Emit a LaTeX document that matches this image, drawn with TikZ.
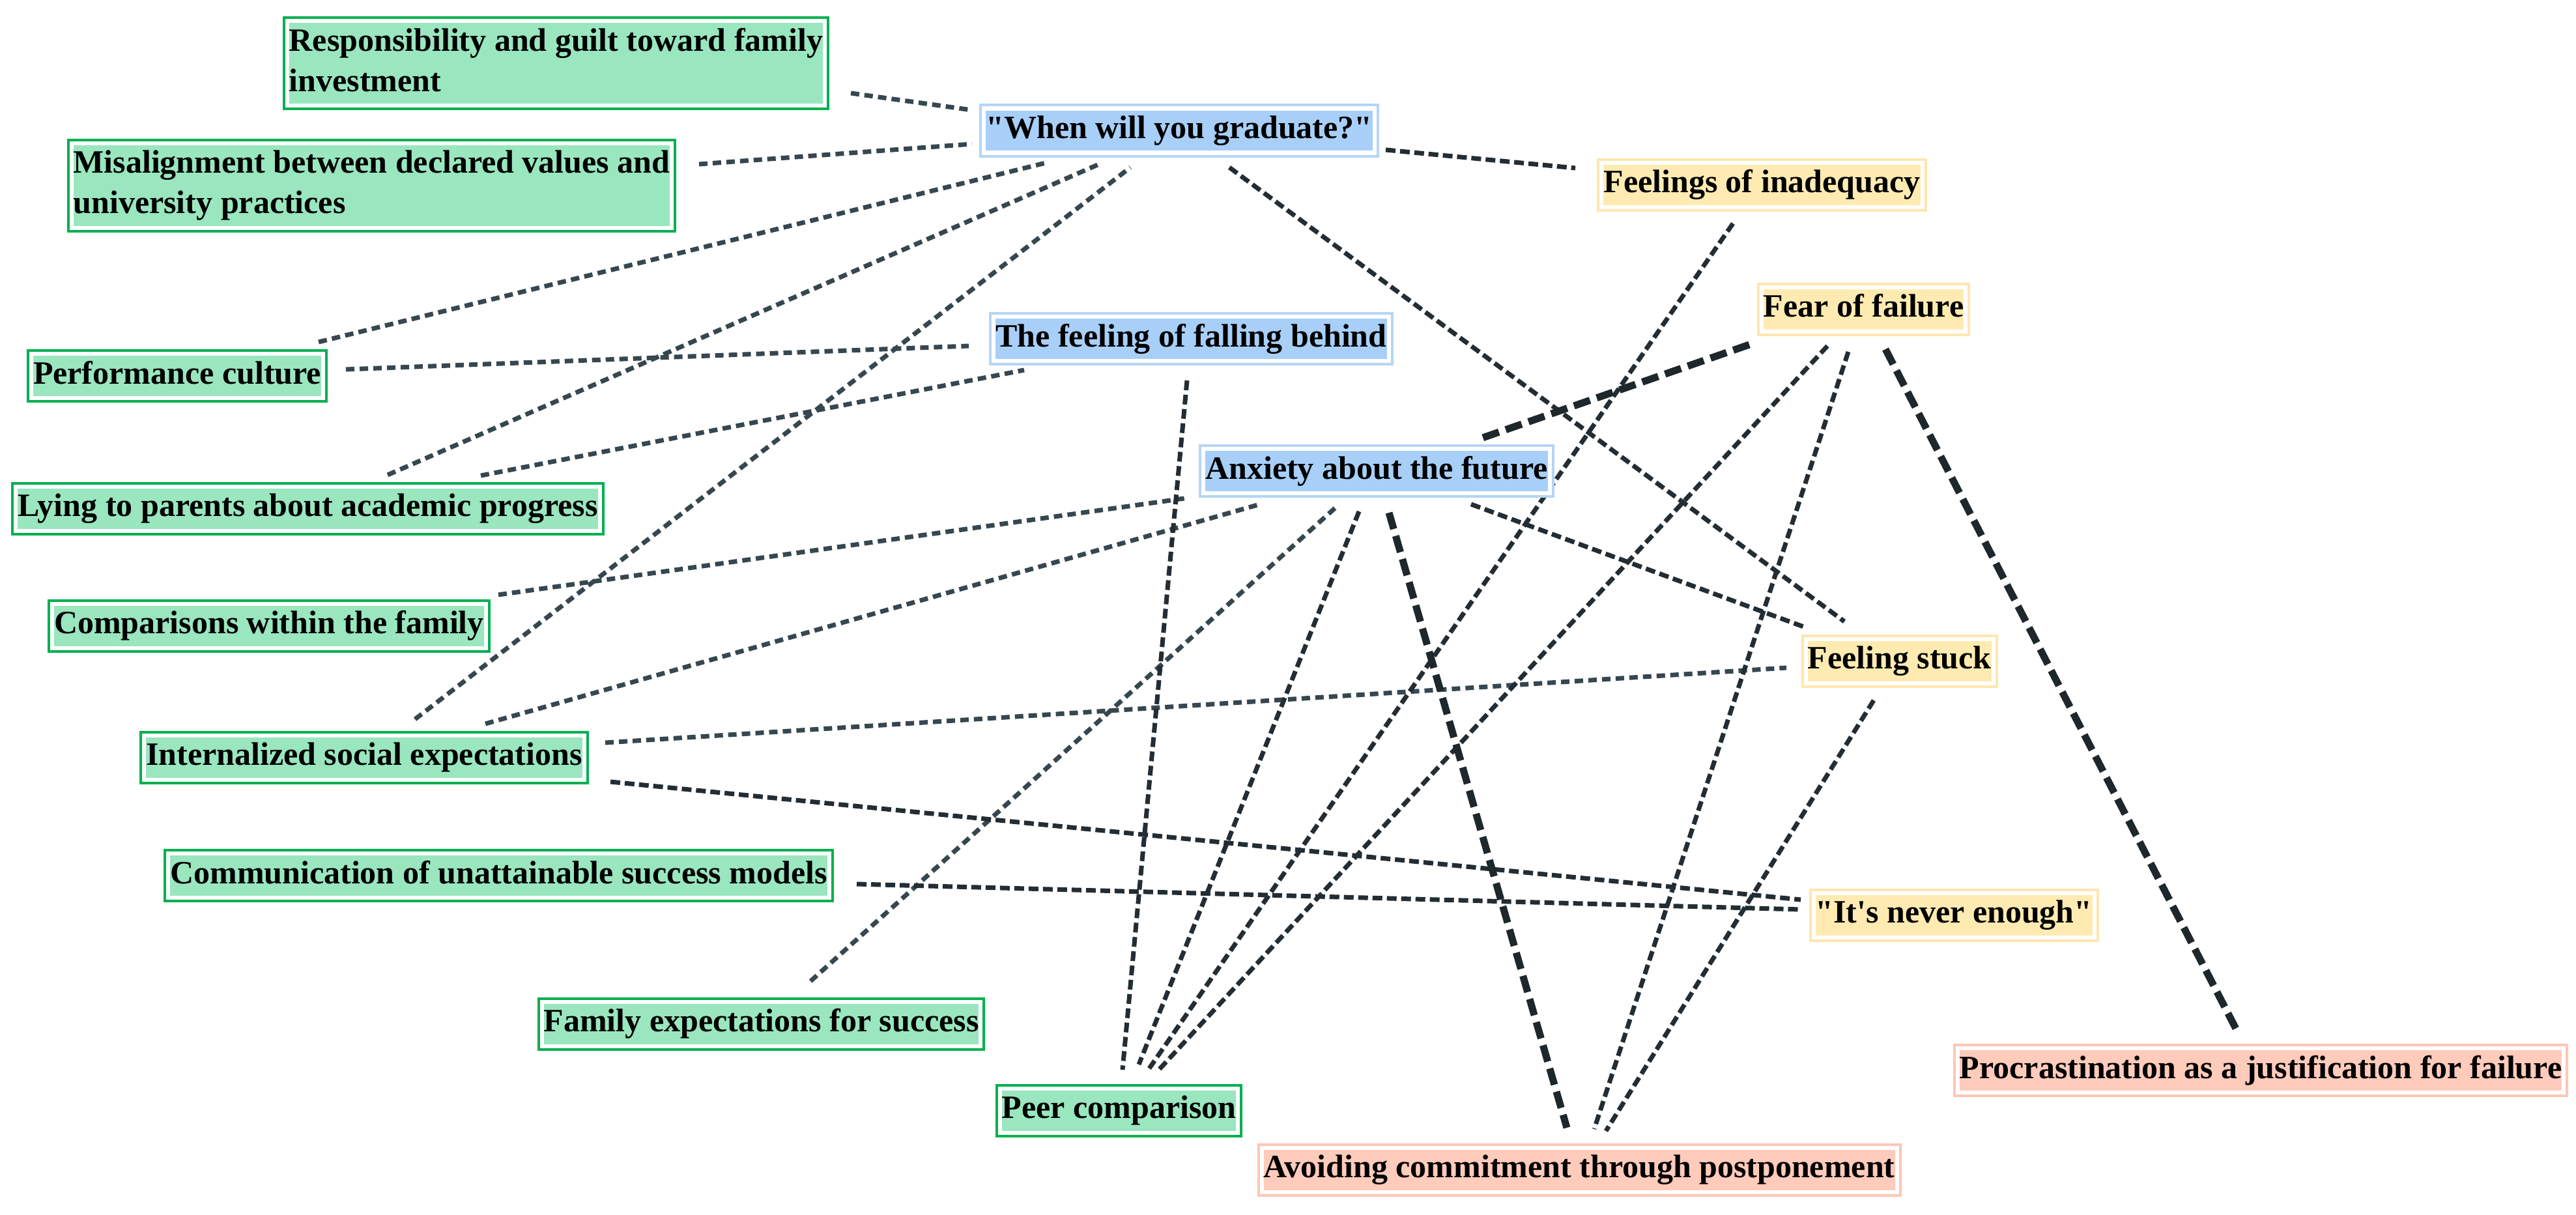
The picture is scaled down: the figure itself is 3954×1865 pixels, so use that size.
\documentclass[tikz,border=0pt]{standalone}
\usepackage{fontspec}
\setmainfont{Liberation Serif}[Ligatures=TeXOff]
\usetikzlibrary{calc}
\setlength{\fboxsep}{0pt}
\definecolor{gfill}{HTML}{99E6BF}
\definecolor{gborder}{HTML}{00B050}
\definecolor{bfill}{HTML}{A8CFF7}
\definecolor{bborder}{HTML}{B4D5F6}
\definecolor{yfill}{HTML}{FFEBB2}
\definecolor{yborder}{HTML}{FFE6AE}
\definecolor{sfill}{HTML}{FFCBBB}
\definecolor{sborder}{HTML}{FFC6B6}
\definecolor{slatec}{HTML}{37474F}
\definecolor{darkc}{HTML}{232D33}
\definecolor{thickc}{HTML}{1E272C}
\newcommand{\hlbox}[2]{\colorbox{#1}{\begin{tabular}{@{}l@{}}#2\end{tabular}}}
\pgfdeclarelayer{bg}
\pgfsetlayers{bg,main}
\tikzset{
  basebox/.style={fill=white, inner sep=8pt, font=\fontsize{50}{62}\selectfont\bfseries, anchor=center},
  gbox/.style={basebox, draw=gborder, line width=4pt},
  bbox/.style={basebox, draw=bborder, line width=4pt},
  ybox/.style={basebox, draw=yborder, line width=4pt},
  sbox/.style={basebox, draw=sborder, line width=4pt},
  slate/.style={draw=slatec, line width=7pt, dash pattern=on 13pt off 8pt},
  darkl/.style={draw=darkc, line width=7pt, dash pattern=on 15pt off 7pt},
  thickl/.style={draw=thickc, line width=11pt, dash pattern=on 26pt off 11pt}
}
\begin{document}
\begin{tikzpicture}[x=1pt,y=-1pt]
\useasboundingbox (0,0) rectangle (3954,1865);
% left (green) nodes
\node[gbox] (resp) at (853.5,97) {\hlbox{gfill}{Responsibility and guilt toward family\\investment}};
\node[gbox] (mis) at (570.5,284.5) {\hlbox{gfill}{Misalignment between declared values and\\university practices}};
\node[gbox] (perf) at (272,577) {\hlbox{gfill}{Performance culture}};
\node[gbox] (lying) at (472.5,780.5) {\hlbox{gfill}{Lying to parents about academic progress}};
\node[gbox] (comp) at (413,960.5) {\hlbox{gfill}{Comparisons within the family}};
\node[gbox] (intern) at (559,1162.5) {\hlbox{gfill}{Internalized social expectations}};
\node[gbox] (comm) at (765.5,1344) {\hlbox{gfill}{Communication of unattainable success models}};
\node[gbox] (fam) at (1168.5,1571.5) {\hlbox{gfill}{Family expectations for success}};
\node[gbox] (peer) at (1717.5,1704.5) {\hlbox{gfill}{Peer comparison}};
% blue nodes
\node[bbox] (when) at (1810,200.5) {\hlbox{bfill}{"When will you graduate?"}};
\node[bbox] (behind) at (1828.5,520) {\hlbox{bfill}{The feeling of falling behind}};
\node[bbox] (anx) at (2113,723) {\hlbox{bfill}{Anxiety about the future}};
% yellow nodes
\node[ybox] (inad) at (2704.5,283.5) {\hlbox{yfill}{Feelings of inadequacy}};
\node[ybox] (fear) at (2860.5,474.5) {\hlbox{yfill}{Fear of failure}};
\node[ybox] (stuck) at (2915.5,1014.5) {\hlbox{yfill}{Feeling stuck}};
\node[ybox] (never) at (2999,1404.5) {\hlbox{yfill}{"It's never enough"}};
% salmon nodes
\node[sbox] (avoid) at (2424,1795.5) {\hlbox{sfill}{Avoiding commitment through postponement}};
\node[sbox] (procr) at (3470,1643) {\hlbox{sfill}{Procrastination as a justification for failure}};
\begin{pgfonlayer}{bg}
% slate connectors (from green nodes)
\draw[slate] ([shift={(452.5,46)}]resp.center) -- ([shift={(-318,-31.5)}]when.center);
\draw[slate] ([shift={(502.5,-32.5)}]mis.center) -- ([shift={(-318,20.5)}]when.center);
\draw[slate] ([shift={(217,-52)}]perf.center) -- ([shift={(-205,49.5)}]when.center);
\draw[slate] ([shift={(122.5,-51.5)}]lying.center) -- ([shift={(-123,51.5)}]when.center);
\draw[slate] ([shift={(78,-58.5)}]intern.center) -- ([shift={(-75,56.5)}]when.center);
\draw[slate] ([shift={(259,-10)}]perf.center) -- ([shift={(-341.5,11)}]behind.center);
\draw[slate] ([shift={(265.5,-50.5)}]lying.center) -- ([shift={(-256.5,48)}]behind.center);
\draw[slate] ([shift={(352,-47.5)}]comp.center) -- ([shift={(-295,42)}]anx.center);
\draw[slate] ([shift={(186,-51.5)}]intern.center) -- ([shift={(-179,51)}]anx.center);
\draw[slate] ([shift={(-64,57)}]anx.center) -- ([shift={(73.5,-63.5)}]fam.center);
\draw[slate] ([shift={(370,-22.5)}]intern.center) -- ([shift={(-173.5,10.5)}]stuck.center);
% dark connectors
\draw[darkl] ([shift={(378,37.5)}]intern.center) -- ([shift={(-235,-23.5)}]never.center);
\draw[darkl] ([shift={(549.5,13)}]comm.center) -- ([shift={(-235,-8.5)}]never.center);
\draw[darkl] ([shift={(77,56.5)}]when.center) -- ([shift={(-84.5,-60.5)}]stuck.center);
\draw[darkl] ([shift={(317,29.5)}]when.center) -- ([shift={(-286.5,-25.5)}]inad.center);
\draw[darkl] ([shift={(-6.5,64)}]behind.center) -- ([shift={(5.5,-62.5)}]peer.center);
\draw[darkl] ([shift={(-27,62)}]anx.center) -- ([shift={(30.5,-70.5)}]peer.center);
\draw[darkl] ([shift={(-44.5,59.5)}]inad.center) -- ([shift={(46.5,-64.5)}]peer.center);
\draw[darkl] ([shift={(-55.5,56.5)}]fear.center) -- ([shift={(59.5,-60.5)}]peer.center);
\draw[darkl] ([shift={(145,51)}]anx.center) -- ([shift={(-144.5,-51.5)}]stuck.center);
\draw[darkl] ([shift={(-23.5,65.5)}]fear.center) -- ([shift={(23,-62.5)}]avoid.center);
\draw[darkl] ([shift={(-39.5,60.5)}]stuck.center) -- ([shift={(41,-59.5)}]avoid.center);
% thick connectors
\draw[thickl] ([shift={(19,64)}]anx.center) -- ([shift={(-19,-64.5)}]avoid.center);
\draw[thickl] ([shift={(-175.5,54.5)}]fear.center) -- ([shift={(157,-49)}]anx.center);
\draw[thickl] ([shift={(33.5,61.5)}]fear.center) -- ([shift={(-37,-62)}]procr.center);
\end{pgfonlayer}
\end{tikzpicture}
\end{document}
